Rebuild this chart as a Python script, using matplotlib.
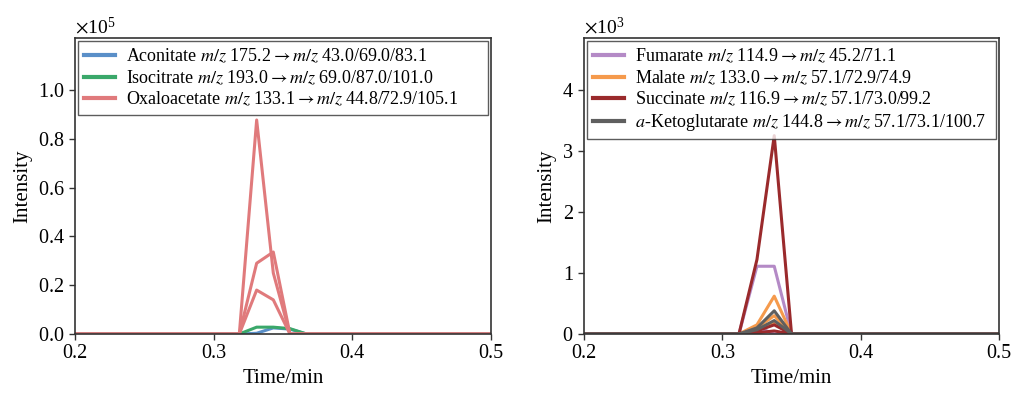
import matplotlib
matplotlib.use("Agg")
import matplotlib.pyplot as plt
from matplotlib.ticker import ScalarFormatter

plt.rcParams['font.family'] = ['Liberation Serif', 'DejaVu Serif']
plt.rcParams['mathtext.fontset'] = 'stix'

# left panel: time points and intensities
t_left = [0.2, 0.3185, 0.331, 0.343, 0.355, 0.367, 0.5]
aconitate = [0, 0, 0.003e5, 0.025e5, 0.02e5, 0, 0]
isocitrate = [0, 0, 0.028e5, 0.028e5, 0.022e5, 0, 0]
oxaloacetate_1 = [0, 0, 0.877e5, 0.25e5, 0, 0, 0]
oxaloacetate_2 = [0, 0, 0.29e5, 0.336e5, 0, 0, 0]
oxaloacetate_3 = [0, 0, 0.18e5, 0.14e5, 0, 0, 0]

# right panel
t_right = [0.2, 0.312, 0.325, 0.3375, 0.350, 0.5]
fumarate_1 = [0, 0, 1.11e3, 1.11e3, 0, 0]
fumarate_2 = [0, 0, 0.12e3, 0.0, 0, 0]
malate_1 = [0, 0, 0.15e3, 0.62e3, 0, 0]
malate_2 = [0, 0, 0.10e3, 0.30e3, 0, 0]
malate_3 = [0, 0, 0.05e3, 0.18e3, 0, 0]
succinate_1 = [0, 0, 1.22e3, 3.25e3, 0, 0]
succinate_2 = [0, 0, 0.05e3, 0.15e3, 0, 0]
succinate_3 = [0, 0, 0.02e3, 0.05e3, 0, 0]
akg_1 = [0, 0, 0.10e3, 0.38e3, 0, 0]
akg_2 = [0, 0, 0.07e3, 0.22e3, 0, 0]

xticks = [0.2, 0.3, 0.4, 0.5]

arr = r'$\rightarrow$'
lbl_aco = r'Aconitate $m/z$ 175.2' + arr + r'$m/z$ 43.0/69.0/83.1'
lbl_iso = r'Isocitrate $m/z$ 193.0' + arr + r'$m/z$ 69.0/87.0/101.0'
lbl_oxa = r'Oxaloacetate $m/z$ 133.1' + arr + r'$m/z$ 44.8/72.9/105.1'
lbl_fum = r'Fumarate $m/z$ 114.9' + arr + r'$m/z$ 45.2/71.1'
lbl_mal = r'Malate $m/z$ 133.0' + arr + r'$m/z$ 57.1/72.9/74.9'
lbl_suc = r'Succinate $m/z$ 116.9' + arr + r'$m/z$ 57.1/73.0/99.2'
lbl_akg = r'$a$-Ketoglutarate $m/z$ 144.8' + arr + r'$m/z$ 57.1/73.1/100.7'

c_blue = '#5a8fc8'
c_green = '#3aa86a'
c_red = '#e07a7c'
c_purple = '#b48ac6'
c_orange = '#f59a4c'
c_dred = '#9a2a2c'
c_gray = '#5f5f5f'

fig = plt.figure(figsize=(10.12, 3.97), dpi=100)
ax1 = fig.add_axes([0.0741, 0.1587, 0.4111, 0.7456])
ax2 = fig.add_axes([0.5771, 0.1587, 0.4101, 0.7456])

lw = 2.2
ax1.plot(t_left, aconitate, color=c_blue, lw=lw, label=lbl_aco)
ax1.plot(t_left, isocitrate, color=c_green, lw=lw, label=lbl_iso)
ax1.plot(t_left, oxaloacetate_1, color=c_red, lw=lw, label=lbl_oxa)
ax1.plot(t_left, oxaloacetate_2, color=c_red, lw=lw)
ax1.plot(t_left, oxaloacetate_3, color=c_red, lw=lw)
ax1.set_ylim(0, 1.213e5)
ax1.set_yticks([0, 0.2e5, 0.4e5, 0.6e5, 0.8e5, 1.0e5])

ax2.plot(t_right, fumarate_1, color=c_purple, lw=lw, label=lbl_fum)
ax2.plot(t_right, fumarate_2, color=c_purple, lw=lw)
ax2.plot(t_right, malate_1, color=c_orange, lw=lw, label=lbl_mal)
ax2.plot(t_right, malate_2, color=c_orange, lw=lw)
ax2.plot(t_right, malate_3, color=c_orange, lw=lw)
ax2.plot(t_right, succinate_1, color=c_dred, lw=lw, label=lbl_suc)
ax2.plot(t_right, succinate_2, color=c_dred, lw=lw)
ax2.plot(t_right, succinate_3, color=c_dred, lw=lw)
ax2.plot(t_right, akg_1, color=c_gray, lw=lw, label=lbl_akg)
ax2.plot(t_right, akg_2, color=c_gray, lw=lw)
ax2.set_ylim(0, 4.85e3)
ax2.set_yticks([0, 1e3, 2e3, 3e3, 4e3])

for ax in (ax1, ax2):
    ax.set_xlim(0.2, 0.5)
    ax.set_xticks(xticks)
    fmt = ScalarFormatter(useMathText=True)
    fmt.set_powerlimits((0, 0))
    ax.yaxis.set_major_formatter(fmt)
    ax.yaxis.get_offset_text().set_fontsize(14)
    ax.tick_params(labelsize=14.5, direction='out', length=4, width=1, colors='#333333', labelcolor='black')
    for s in ax.spines.values():
        s.set_color('#333333')
        s.set_linewidth(1.2)
    ax.set_xlabel('Time/min', fontsize=15)
    ax.set_ylabel('Intensity', fontsize=15)
    leg = ax.legend(loc='upper left', bbox_to_anchor=(0, 0, 1, 1), mode='expand',
                    fontsize=13, frameon=True, fancybox=False,
                    edgecolor='#333333', handlelength=1.7, labelspacing=0.18,
                    borderpad=0.35, handletextpad=0.6, borderaxespad=0.15)
    leg.get_frame().set_linewidth(1.0)
    for h in leg.get_lines():
        h.set_linewidth(3)

fig.savefig('out.png', dpi=100)
